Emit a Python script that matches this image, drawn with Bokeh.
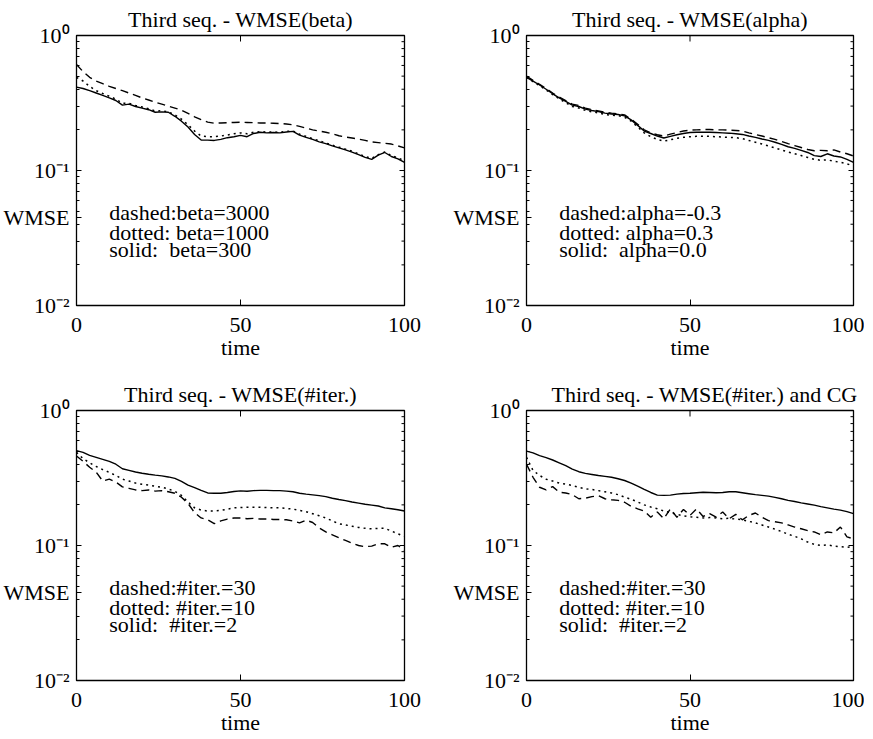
import math
from bokeh.plotting import figure
from bokeh.layouts import column, row
from bokeh.models import FixedTicker, ColumnDataSource
from bokeh.core.properties import value
from bokeh.embed import file_html
from bokeh.resources import INLINE

# ---------------- data ----------------
TIME = [0, 2, 4, 6, 8, 10, 12, 14, 16, 18, 20, 22, 24, 26, 28, 30, 32, 34, 36, 38, 40,
        42, 44, 46, 48, 50, 52, 54, 56, 58, 60, 62, 64, 66, 68, 70, 72, 74, 76, 78, 80,
        82, 84, 86, 88, 90, 92, 94, 96, 98, 100]

# Panel 1: WMSE(beta)
BETA_DASHED = [0.61, 0.54, 0.49, 0.46, 0.44, 0.42, 0.405, 0.39, 0.375, 0.36, 0.345,
               0.333, 0.32, 0.31, 0.30, 0.29, 0.28, 0.265, 0.25, 0.238, 0.228,
               0.224, 0.225, 0.226, 0.227, 0.228, 0.227, 0.226, 0.225, 0.225, 0.224,
               0.223, 0.221, 0.218, 0.212, 0.206, 0.200, 0.196, 0.192, 0.187, 0.181,
               0.177, 0.174, 0.171, 0.167, 0.163, 0.161, 0.159, 0.157, 0.152, 0.147]
BETA_DOTTED = [0.49, 0.46, 0.42, 0.39, 0.372, 0.355, 0.338, 0.315, 0.315, 0.303, 0.295,
               0.287, 0.276, 0.277, 0.272, 0.258, 0.240, 0.218, 0.196, 0.180, 0.178,
               0.178, 0.180, 0.183, 0.187, 0.190, 0.187, 0.192, 0.194, 0.193, 0.193,
               0.192, 0.195, 0.196, 0.186, 0.179, 0.172, 0.166, 0.160, 0.154, 0.149,
               0.144, 0.139, 0.133, 0.127, 0.123, 0.131, 0.137, 0.129, 0.124, 0.118]
BETA_SOLID = [0.415, 0.405, 0.39, 0.375, 0.36, 0.345, 0.33, 0.305, 0.31, 0.298, 0.29,
              0.282, 0.27, 0.272, 0.27, 0.252, 0.232, 0.21, 0.185, 0.168, 0.168,
              0.167, 0.170, 0.175, 0.178, 0.182, 0.178, 0.188, 0.192, 0.190, 0.191,
              0.190, 0.193, 0.195, 0.183, 0.176, 0.170, 0.163, 0.158, 0.152, 0.147,
              0.142, 0.137, 0.131, 0.125, 0.121, 0.130, 0.136, 0.127, 0.122, 0.115]

# Panel 2: WMSE(alpha)
ALPHA_DASHED = [0.50, 0.465, 0.435, 0.405, 0.375, 0.35, 0.33, 0.31, 0.303, 0.29, 0.282,
                0.276, 0.27, 0.266, 0.263, 0.258, 0.24, 0.22, 0.20, 0.19, 0.184,
                0.18, 0.186, 0.191, 0.196, 0.199, 0.200, 0.201, 0.201, 0.200, 0.200,
                0.199, 0.198, 0.196, 0.190, 0.185, 0.180, 0.175, 0.170, 0.164, 0.158,
                0.153, 0.148, 0.143, 0.140, 0.141, 0.140, 0.142, 0.137, 0.133, 0.128]
ALPHA_DOTTED = [0.49, 0.455, 0.425, 0.395, 0.365, 0.34, 0.318, 0.298, 0.29, 0.279, 0.272,
                0.267, 0.26, 0.257, 0.255, 0.248, 0.232, 0.21, 0.19, 0.178, 0.17,
                0.165, 0.169, 0.173, 0.176, 0.178, 0.179, 0.179, 0.179, 0.178, 0.177,
                0.176, 0.175, 0.172, 0.167, 0.162, 0.157, 0.152, 0.147, 0.142, 0.137,
                0.133, 0.129, 0.125, 0.121, 0.119, 0.120, 0.117, 0.115, 0.112, 0.108]
ALPHA_SOLID = [0.49, 0.46, 0.43, 0.40, 0.37, 0.345, 0.325, 0.305, 0.298, 0.285, 0.278,
               0.273, 0.266, 0.262, 0.26, 0.254, 0.237, 0.216, 0.196, 0.188, 0.18,
               0.174, 0.179, 0.184, 0.188, 0.191, 0.192, 0.192, 0.192, 0.191, 0.190,
               0.189, 0.187, 0.185, 0.180, 0.176, 0.171, 0.167, 0.162, 0.156, 0.150,
               0.146, 0.141, 0.136, 0.129, 0.127, 0.133, 0.128, 0.126, 0.121, 0.115]

# Panel 3: WMSE(#iter.)
ITER_DASHED = [0.46, 0.42, 0.38, 0.35, 0.30, 0.31, 0.295, 0.272, 0.265, 0.258, 0.255,
               0.258, 0.253, 0.255, 0.25, 0.244, 0.228, 0.205, 0.175, 0.16, 0.155,
               0.145, 0.152, 0.157, 0.16, 0.16, 0.158, 0.159, 0.157, 0.157, 0.156,
               0.156, 0.155, 0.152, 0.147, 0.154, 0.148, 0.135, 0.126, 0.12, 0.114,
               0.109, 0.104, 0.10, 0.098, 0.099, 0.103, 0.103, 0.097, 0.10, 0.092]
ITER_DOTTED = [0.49, 0.44, 0.41, 0.385, 0.365, 0.348, 0.33, 0.31, 0.30, 0.29, 0.284,
               0.28, 0.275, 0.27, 0.262, 0.252, 0.235, 0.21, 0.19, 0.183, 0.18,
               0.18, 0.182, 0.186, 0.19, 0.191, 0.192, 0.192, 0.192, 0.191, 0.19,
               0.19, 0.188, 0.186, 0.182, 0.178, 0.172, 0.166, 0.16, 0.152, 0.145,
               0.142, 0.139, 0.136, 0.134, 0.133, 0.134, 0.134, 0.128, 0.122, 0.117]
ITER_SOLID = [0.505, 0.49, 0.465, 0.45, 0.435, 0.42, 0.40, 0.37, 0.36, 0.35, 0.343,
              0.337, 0.332, 0.328, 0.322, 0.314, 0.298, 0.28, 0.268, 0.256, 0.245,
              0.244, 0.244, 0.247, 0.251, 0.254, 0.252, 0.255, 0.256, 0.256, 0.255,
              0.255, 0.253, 0.25, 0.244, 0.24, 0.237, 0.234, 0.23, 0.224, 0.219,
              0.215, 0.21, 0.206, 0.202, 0.199, 0.196, 0.19, 0.187, 0.184, 0.18]

# Panel 4: WMSE(#iter.) and CG
CG_DASHED = [0.40, 0.32, 0.27, 0.258, 0.273, 0.248, 0.245, 0.238, 0.222, 0.224, 0.23,
             0.234, 0.222, 0.218, 0.216, 0.209, 0.195, 0.187, 0.18, 0.162, 0.177,
             0.158, 0.187, 0.162, 0.185, 0.167, 0.187, 0.164, 0.172, 0.162, 0.177,
             0.158, 0.17, 0.155, 0.167, 0.174, 0.162, 0.153, 0.15, 0.147, 0.142,
             0.137, 0.133, 0.129, 0.126, 0.12, 0.126, 0.124, 0.137, 0.116, 0.112]
CG_DOTTED = [0.45, 0.36, 0.33, 0.31, 0.30, 0.29, 0.285, 0.278, 0.27, 0.263, 0.26,
             0.255, 0.25, 0.245, 0.238, 0.228, 0.22, 0.21, 0.20, 0.193, 0.187,
             0.18, 0.175, 0.17, 0.166, 0.163, 0.162, 0.16, 0.161, 0.16, 0.158,
             0.159, 0.157, 0.155, 0.151, 0.147, 0.142, 0.137, 0.132, 0.127, 0.121,
             0.117, 0.112, 0.106, 0.102, 0.10, 0.101, 0.099, 0.098, 0.097, 0.098]
CG_SOLID = [0.50, 0.485, 0.463, 0.448, 0.43, 0.41, 0.39, 0.368, 0.352, 0.342, 0.336,
            0.33, 0.325, 0.32, 0.312, 0.303, 0.29, 0.275, 0.26, 0.247, 0.236,
            0.235, 0.236, 0.24, 0.243, 0.244, 0.246, 0.248, 0.247, 0.246, 0.247,
            0.25, 0.25, 0.246, 0.242, 0.238, 0.235, 0.232, 0.227, 0.222, 0.216,
            0.212, 0.207, 0.203, 0.199, 0.194, 0.19, 0.186, 0.183, 0.178, 0.172]

TITLES = ["Third seq. - WMSE(beta)", "Third seq. - WMSE(alpha)",
          "Third seq. - WMSE(#iter.)", "Third seq. - WMSE(#iter.) and CG"]
LEGENDS = [["dashed:beta=3000", "dotted: beta=1000", "solid:\u00a0 beta=300"],
           ["dashed:alpha=-0.3", "dotted: alpha=0.3", "solid:\u00a0 alpha=0.0"],
           ["dashed:#iter.=30", "dotted: #iter.=10", "solid:\u00a0 #iter.=2"],
           ["dashed:#iter.=30", "dotted: #iter.=10", "solid:\u00a0 #iter.=2"]]
X_TICKS = [0, 50, 100]
Y_TICKS = [0.01, 0.1, 1]
Y_TICK_LABELS = ["10\u207b\u00b2", "10\u207b\u00b9", "10\u2070"]
Y_MINOR_TICKS = [0.02, 0.03, 0.04, 0.05, 0.06, 0.07, 0.08, 0.09,
                 0.2, 0.3, 0.4, 0.5, 0.6, 0.7, 0.8, 0.9]
X_LABEL = "time"
Y_LABEL = "WMSE"

# ---------------- styling ----------------
FONT = "Liberation Serif"
FS = "22px"
LEGEND_X = 10
LEGEND_Y = [0.049, 0.035, 0.0262]
YLABEL_Y = 0.045     # where the horizontal "WMSE" label sits on the y axis


def make_panel(title, dashed, dotted, solid, legend, frame_w, frame_h,
               b_left, b_right, b_top, b_bottom, title_align="center", title_offset=0):
    p = figure(frame_width=frame_w, frame_height=frame_h, y_axis_type="log",
               x_range=(0, 100), y_range=(0.01, 1),
               output_backend="svg", toolbar_location=None,
               min_border_left=b_left, min_border_right=b_right,
               min_border_top=b_top, min_border_bottom=b_bottom,
               title=title)
    p.title.text_font = FONT
    p.title.text_font_size = FS
    p.title.text_font_style = "normal"
    p.title.text_color = "black"
    p.title.align = title_align
    p.title.standoff = 8
    p.title.offset = title_offset
    p.grid.visible = False
    p.outline_line_color = "black"
    p.outline_line_width = 1.3
    p.background_fill_color = "white"
    p.border_fill_color = "white"

    src = ColumnDataSource(dict(t=TIME, dashed=dashed, dotted=dotted, solid=solid))
    p.line("t", "dashed", source=src, line_color="black", line_width=1.4, line_dash="8 5")
    p.line("t", "dotted", source=src, line_color="black", line_width=1.5, line_dash="2 4")
    p.line("t", "solid", source=src, line_color="black", line_width=1.4)

    # bottom axis
    xa = p.xaxis[0]
    xa.ticker = FixedTicker(ticks=X_TICKS)
    xa.axis_line_color = "black"
    xa.major_tick_in = 6
    xa.major_tick_out = 0
    xa.minor_tick_line_color = None
    xa.major_label_text_font = FONT
    xa.major_label_text_font_size = FS
    xa.major_label_text_color = "black"
    xa.major_label_standoff = 12
    xa.axis_label = X_LABEL
    xa.axis_label_text_font = FONT
    xa.axis_label_text_font_size = FS
    xa.axis_label_text_font_style = "normal"
    xa.axis_label_text_color = "black"
    xa.axis_label_standoff = 0

    # left axis (log), with the horizontal "WMSE" label carried as a tick label
    ya = p.yaxis[0]
    ya.ticker = FixedTicker(ticks=Y_TICKS + [YLABEL_Y], minor_ticks=Y_MINOR_TICKS)
    ya.axis_line_color = "black"
    ya.major_tick_in = 5
    ya.major_tick_out = 0
    ya.minor_tick_in = 3
    ya.minor_tick_out = 0
    ya.minor_tick_line_color = "black"
    ya.major_label_text_font = FONT
    ya.major_label_text_font_size = FS
    ya.major_label_text_color = "black"
    ya.major_label_standoff = 7
    overrides = dict(zip(Y_TICKS, Y_TICK_LABELS))
    overrides[YLABEL_Y] = Y_LABEL
    ya.major_label_overrides = overrides

    # box ticks on top and right edges (inward), derived from the tick lists
    p.ray(x=X_TICKS, y=[1] * len(X_TICKS), length=6, length_units="screen",
          angle=-math.pi / 2, line_color="black", line_width=1)
    p.ray(x=[100] * len(Y_TICKS), y=Y_TICKS, length=5, length_units="screen",
          angle=math.pi, line_color="black", line_width=1)
    p.ray(x=[100] * len(Y_MINOR_TICKS), y=Y_MINOR_TICKS, length=3, length_units="screen",
          angle=math.pi, line_color="black", line_width=1)

    # legend-like text
    tsrc = ColumnDataSource(dict(x=[LEGEND_X] * 3, y=LEGEND_Y, text=legend))
    p.text("x", "y", text="text", source=tsrc, text_font=value(FONT),
           text_font_size=FS, text_baseline="alphabetic", text_align="left",
           text_color="black")
    return p


p1 = make_panel(TITLES[0], BETA_DASHED, BETA_DOTTED, BETA_SOLID, LEGENDS[0],
                328, 270, 69, 43, 31, 52)
p2 = make_panel(TITLES[1], ALPHA_DASHED, ALPHA_DOTTED, ALPHA_SOLID, LEGENDS[1],
                327, 270, 79, 11, 31, 52)
p3 = make_panel(TITLES[2], ITER_DASHED, ITER_DOTTED, ITER_SOLID, LEGENDS[2],
                328, 270, 69, 43, 48, 52)
p4 = make_panel(TITLES[3], CG_DASHED, CG_DOTTED, CG_SOLID, LEGENDS[3],
                327, 270, 79, 11, 48, 52, title_align="left", title_offset=25)

layout = column(row(p1, p2), row(p3, p4))

with open("out.html", "w") as f:
    f.write(file_html(layout, INLINE))
